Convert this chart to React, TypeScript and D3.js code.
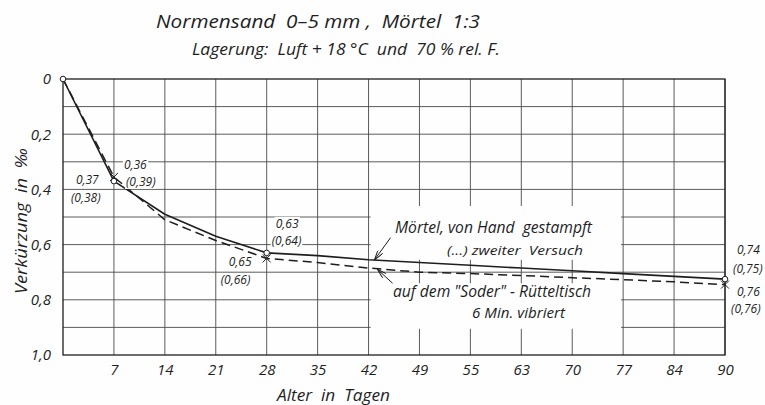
import * as d3 from 'd3'
import { useEffect, useRef } from 'react'

// Alter in Tagen (x positions are evenly spaced per column, as in the original sheet)
const days = [0, 7, 14, 21, 28, 35, 42, 49, 56, 63, 70, 77, 84, 90]
const dayLabels = ['7', '14', '21', '28', '35', '42', '49', '55', '63', '70', '77', '84', '90']

// Verkürzung in ‰
const handValues = [0, 0.37, 0.49, 0.57, 0.63, 0.64, 0.655, 0.665, 0.675, 0.685, 0.695, 0.705, 0.715, 0.725]
const vibValues = [0, 0.355, 0.51, 0.585, 0.65, 0.665, 0.685, 0.7, 0.705, 0.712, 0.72, 0.727, 0.735, 0.745]

const yTicks = [0, 0.2, 0.4, 0.6, 0.8, 1.0]
const yGrid = [0.1, 0.2, 0.3, 0.4, 0.5, 0.6, 0.7, 0.8, 0.9]

const markedDays = [7, 28, 90]
const handText = ['0,37', '0,63', '0,74']
const handText2 = ['(0,38)', '(0,64)', '(0,75)']
const vibText = ['0,36', '0,65', '0,76']
const vibText2 = ['(0,39)', '(0,66)', '(0,76)']

// label offsets from the marker, [dx, dy] for first and second line
const handOffsets = [
  [[-38, 3], [-43, 21]],
  [[9, -25], [5, -8]],
  [[12, -25], [8, -6]],
]
const vibOffsets = [
  [[10, -8], [12, 9]],
  [[-38, 8], [-46, 26]],
  [[12, 11], [6, 28]],
]

const FONT = "'Open Sans', 'DejaVu Sans', sans-serif"
const INK = '#1e1e1e'

const App = () => {
  const ref = useRef<SVGSVGElement>(null)

  useEffect(() => {
    const W = 765
    const H = 405
    const m = { left: 63, top: 79, right: 40, bottom: 50 }
    const w = W - m.left - m.right
    const h = H - m.top - m.bottom

    const svg = d3.select(ref.current)
    svg.selectAll('*').remove()
    svg.attr('width', W).attr('height', H)
    svg.append('rect').attr('width', W).attr('height', H).attr('fill', '#fefefe')

    const x = d3
      .scaleLinear()
      .domain(days)
      .range(days.map((_, i) => m.left + (i * w) / (days.length - 1)))
    const y = d3.scaleLinear().domain([0, 1]).range([m.top, m.top + h])

    // grid
    const grid = svg.append('g').attr('stroke', '#4a4a4a').attr('stroke-width', 0.9)
    grid
      .selectAll('line.v')
      .data(days.slice(1))
      .join('line')
      .attr('x1', (d) => x(d))
      .attr('x2', (d) => x(d))
      .attr('y1', m.top)
      .attr('y2', m.top + h)
    grid
      .selectAll('line.h')
      .data(yGrid)
      .join('line')
      .attr('class', 'h')
      .attr('x1', m.left)
      .attr('x2', m.left + w)
      .attr('y1', (d) => y(d))
      .attr('y2', (d) => y(d))

    // white boxes behind the annotation texts
    const boxes = [
      [x(42) + 2, y(0.46), x(77) - 2, y(0.655)],
      [x(42) + 2, y(0.74), x(77) - 2, y(0.905)],
    ]
    svg
      .append('g')
      .selectAll('rect')
      .data(boxes)
      .join('rect')
      .attr('x', (d) => d[0])
      .attr('y', (d) => d[1])
      .attr('width', (d) => d[2] - d[0])
      .attr('height', (d) => d[3] - d[1])
      .attr('fill', '#fefefe')

    // frame
    svg
      .append('rect')
      .attr('x', m.left)
      .attr('y', m.top)
      .attr('width', w)
      .attr('height', h)
      .attr('fill', 'none')
      .attr('stroke', INK)
      .attr('stroke-width', 1.3)

    // X axis
    const xAxis = svg
      .append('g')
      .attr('transform', `translate(0, ${m.top + h})`)
      .call(
        d3
          .axisBottom(x)
          .tickValues(days.slice(1))
          .tickFormat((d, i) => dayLabels[i])
          .tickSize(0)
          .tickPadding(9)
      )
    xAxis.select('.domain').remove()
    xAxis
      .selectAll('text')
      .style('font-family', FONT)
      .style('font-style', 'italic')
      .style('font-size', '15px')
      .attr('fill', INK)

    // Y axis
    const yAxis = svg
      .append('g')
      .attr('transform', `translate(${m.left}, 0)`)
      .call(
        d3
          .axisLeft(y)
          .tickValues(yTicks)
          .tickFormat((d) => (d === 0 ? '0' : d3.format('.1f')(d as number).replace('.', ',')))
          .tickSize(0)
          .tickPadding(12)
      )
    yAxis.select('.domain').remove()
    yAxis
      .selectAll('text')
      .style('font-family', FONT)
      .style('font-style', 'italic')
      .style('font-size', '15px')
      .attr('fill', INK)

    // curves
    const line = d3
      .line<number>()
      .x((d, i) => x(days[i]))
      .y((d) => y(d))
    svg
      .append('path')
      .datum(handValues)
      .attr('d', line)
      .attr('fill', 'none')
      .attr('stroke', INK)
      .attr('stroke-width', 1.6)
      .attr('stroke-linejoin', 'round')
    svg
      .append('path')
      .datum(vibValues)
      .attr('d', line)
      .attr('fill', 'none')
      .attr('stroke', INK)
      .attr('stroke-width', 1.5)
      .attr('stroke-dasharray', '9,5')

    // markers
    const markIdx = markedDays.map((d) => days.indexOf(d))
    svg
      .append('g')
      .selectAll('circle')
      .data([0, ...markIdx])
      .join('circle')
      .attr('cx', (i) => x(days[i]))
      .attr('cy', (i) => y(handValues[i]))
      .attr('r', 2.8)
      .attr('fill', '#fefefe')
      .attr('stroke', INK)
      .attr('stroke-width', 1)
    svg
      .append('g')
      .selectAll('path')
      .data(markIdx)
      .join('path')
      .attr('transform', (i) => `translate(${x(days[i])}, ${y(vibValues[i])})`)
      .attr('d', 'M-4,-4L4,4M-4,4L4,-4')
      .attr('stroke', INK)
      .attr('stroke-width', 1)

    // value labels with white background
    const label = (tx: number, ty: number, s: string) => {
      const g = svg.append('g')
      const r = g.append('rect').attr('fill', '#fefefe')
      const t = g
        .append('text')
        .attr('x', tx)
        .attr('y', ty)
        .attr('fill', INK)
        .style('font-family', FONT)
        .style('font-size', '12px')
        .style('font-style', 'italic')
        .text(s)
      const b = (t.node() as SVGTextElement).getBBox()
      r.attr('x', b.x - 1).attr('y', b.y + 2).attr('width', b.width + 2).attr('height', b.height - 3)
    }
    markIdx.forEach((i, k) => {
      const hx = x(days[i])
      const hy = y(handValues[i])
      const vy = y(vibValues[i])
      label(hx + handOffsets[k][0][0], hy + handOffsets[k][0][1], handText[k])
      label(hx + handOffsets[k][1][0], hy + handOffsets[k][1][1], handText2[k])
      label(hx + vibOffsets[k][0][0], vy + vibOffsets[k][0][1], vibText[k])
      label(hx + vibOffsets[k][1][0], vy + vibOffsets[k][1][1], vibText2[k])
    })

    // annotations
    const text = (tx: number, ty: number, s: string, size: number, len?: number) => {
      const t = svg
        .append('text')
        .attr('x', tx)
        .attr('y', ty)
        .attr('fill', INK)
        .style('font-family', FONT)
        .style('font-style', 'italic')
        .style('font-size', `${size}px`)
        .style('white-space', 'pre')
        .text(s)
      if (len) t.attr('textLength', len).attr('lengthAdjust', 'spacingAndGlyphs')
      return t
    }
    text(156, 28, 'Normensand  0–5 mm ,  Mörtel  1:3', 18, 324)
    text(192, 55, 'Lagerung:  Luft + 18 °C  und  70 % rel. F.', 16, 308)
    text(277, 401, 'Alter  in  Tagen', 17, 113)
    text(395, 233, 'Mörtel, von Hand  gestampft', 17, 197)
    text(447, 255, '(...) zweiter  Versuch', 13, 136)
    text(393, 297, 'auf dem "Soder" - Rütteltisch', 17, 198)
    text(472, 318, '6 Min. vibriert', 15, 93)
    text(0, 0, 'Verkürzung  in  ‰', 17, 146)
      .attr('transform', 'translate(27, 221) rotate(-90)')
      .attr('text-anchor', 'middle')

    // arrows
    const defs = svg.append('defs')
    defs
      .append('marker')
      .attr('id', 'arr')
      .attr('viewBox', '0 0 10 6')
      .attr('refX', 10)
      .attr('refY', 3)
      .attr('markerWidth', 10)
      .attr('markerHeight', 6)
      .attr('markerUnits', 'userSpaceOnUse')
      .attr('orient', 'auto')
      .append('path')
      .attr('d', 'M0,0L10,3L0,6')
      .attr('fill', 'none')
      .attr('stroke', INK)
      .attr('stroke-width', 1)
    const arrows = [
      [x(42) + 22, y(0.575), x(42) + 6, y(0.655)],
      [x(42) + 24, y(0.74), x(42) + 9, y(0.69)],
    ]
    svg
      .append('g')
      .selectAll('line')
      .data(arrows)
      .join('line')
      .attr('x1', (d) => d[0])
      .attr('y1', (d) => d[1])
      .attr('x2', (d) => d[2])
      .attr('y2', (d) => d[3])
      .attr('stroke', INK)
      .attr('stroke-width', 1)
      .attr('marker-end', 'url(#arr)')
  }, [])

  return <svg ref={ref} style={{ position: 'absolute', left: 0, top: 0 }}></svg>
}

export default App
